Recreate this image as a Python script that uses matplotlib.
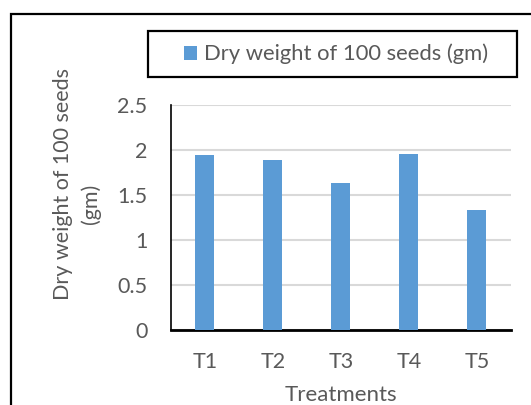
import matplotlib
matplotlib.use("Agg")
import matplotlib.pyplot as plt
from matplotlib.patches import Rectangle

treatments = ["T1", "T2", "T3", "T4", "T5"]
dry_weight = [1.94, 1.89, 1.63, 1.96, 1.33]
yticks = [0, 0.5, 1, 1.5, 2, 2.5]
ytick_labels = ["0", "0.5", "1", "1.5", "2", "2.5"]

plt.rcParams['font.family'] = ['Lato', 'DejaVu Sans']
grey = '#595959'
W, H = 531, 405

fig = plt.figure(figsize=(5.31, 4.05), dpi=100)
ax = fig.add_axes([0.322, 0.185, 0.640, 0.556])

bars = ax.bar(range(len(treatments)), dry_weight, width=0.28, color='#5b9bd5',
              label='Dry weight of 100 seeds (gm)', zorder=3)

ax.set_xlim(-0.5, len(treatments) - 0.5)
ax.set_ylim(0, 2.5)
ax.set_yticks(yticks)
ax.set_yticklabels(ytick_labels)
ax.set_xticks(range(len(treatments)))
ax.set_xticklabels(treatments)
ax.tick_params(axis='both', length=0, labelsize=15.5, colors=grey)
ax.tick_params(axis='x', pad=16)
ax.tick_params(axis='y', pad=17)
ax.grid(axis='y', color='#d9d9d9', linewidth=1.5, zorder=0)

for s in ['top', 'right']:
    ax.spines[s].set_visible(False)
ax.spines['left'].set_linewidth(1.2)
ax.spines['left'].set_color('black')
ax.spines['bottom'].set_linewidth(2)
ax.spines['bottom'].set_color('black')

# y axis title, two lines placed like the original
fig.text(63 / W, 1 - 184 / H, 'Dry weight of 100 seeds', rotation=90,
         ha='center', va='center', fontsize=15.5, color=grey)
fig.text(91 / W, 1 - 204 / H, '(gm)', rotation=90,
         ha='center', va='center', fontsize=15.5, color=grey)
ax.set_xlabel('Treatments', fontsize=16, color=grey, labelpad=9)

# outer chart border
fig.patches.append(Rectangle((11 / W, -0.1), 1.0, 0.1 + (1 - 14 / H),
                             transform=fig.transFigure, fill=False,
                             edgecolor='black', linewidth=1.6))

# legend box
fig.patches.append(Rectangle((148 / W, 1 - 77 / H), (517 - 148) / W, 46 / H,
                             transform=fig.transFigure, fill=False,
                             edgecolor='black', linewidth=1.6))
leg = fig.legend(loc='center', bbox_to_anchor=(336 / W, 1 - 54 / H),
                 fontsize=15.8, frameon=False,
                 handlelength=0.6, handleheight=0.6, handletextpad=0.3,
                 borderpad=0, borderaxespad=0, labelcolor=grey)

fig.savefig('out.png', dpi=100)
